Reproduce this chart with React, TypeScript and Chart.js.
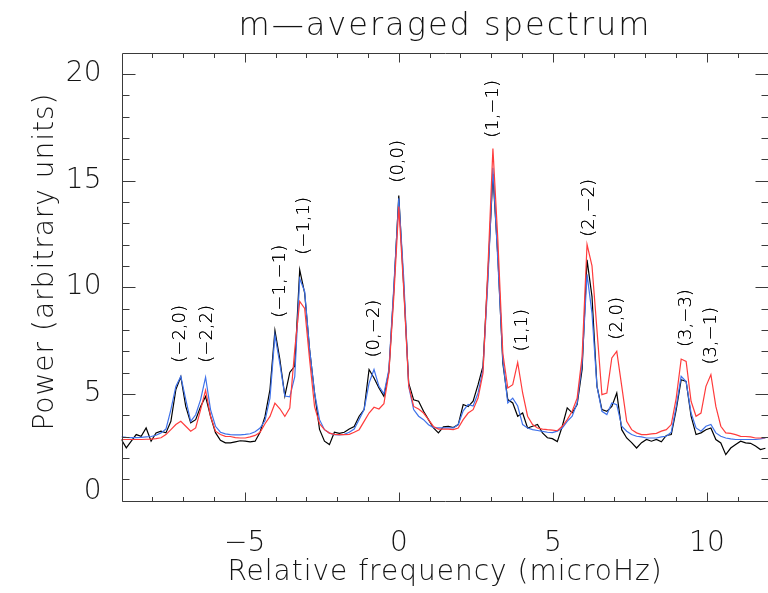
import React, { useEffect, useRef } from 'react';
import { Chart, registerables } from 'chart.js';

Chart.register(...registerables);

// ---- data -------------------------------------------------------------
// spectrum bins (relative frequency grid, microHz)
const FIRST_BIN = -56;
const FREQ_STEP = 0.1608;

// observed m-averaged spectrum (black)
const BLACK = [
  2.86, 2.47, 2.78, 3.09, 3.01, 3.40, 2.78, 3.17, 3.25, 3.17,
  3.71, 5.2, 5.8, 4.41, 3.64, 3.79, 4.41, 4.88, 3.95, 3.18,
  2.82, 2.70, 2.70, 2.75, 2.80, 2.78, 2.75, 2.78, 3.2, 3.94,
  5.2, 7.97, 6.6, 4.9, 6.0, 6.3, 10.81, 9.72, 7.07, 5.04,
  3.33, 2.78, 2.62, 3.2, 3.15, 3.2, 3.35, 3.47, 3.95, 4.26,
  6.14, 5.74, 5.27, 4.88, 6.04, 9.88, 14.3, 10.03, 5.5, 4.72,
  4.65, 4.18, 3.79, 3.40, 3.17, 3.45, 3.48, 3.42, 3.56, 4.5,
  4.4, 4.66, 5.43, 6.3, 10.66, 15.3, 11.4, 6.44, 4.73, 4.57,
  3.95, 4.1, 3.40, 3.48, 3.56, 3.17, 2.94, 2.9, 2.76, 3.48,
  4.34, 4.11, 4.5, 6.14, 11.28, 9.56, 5.36, 4.26, 4.18, 4.41,
  5.04, 3.32, 2.93, 2.71, 2.46, 2.71, 2.86, 2.78, 2.86, 2.75,
  3.05, 3.09, 4.26, 5.66, 5.58, 3.95, 3.09, 3.17, 3.32, 3.40,
  2.86, 2.70, 2.15, 2.46, 2.62, 2.78, 2.70, 2.68, 2.55, 2.39,
  2.45,
];

// model fit (blue)
const BLUE = [
  2.98, 2.96, 2.95, 2.95, 2.96, 2.98, 3.0, 3.06, 3.17, 3.35,
  4.26, 5.35, 5.82, 4.73, 3.71, 4.02, 4.73, 5.78, 4.26, 3.48,
  3.2, 3.12, 3.09, 3.08, 3.08, 3.1, 3.13, 3.22, 3.4, 3.75,
  4.8, 7.75, 6.4, 4.9, 4.86, 5.8, 10.4, 9.8, 7.07, 5.04,
  3.79, 3.32, 3.16, 3.09, 3.07, 3.1, 3.2, 3.35, 3.8, 4.26,
  5.5, 6.14, 5.35, 5.0, 6.14, 10.03, 14.17, 10.4, 5.35, 4.26,
  3.95, 3.79, 3.55, 3.42, 3.40, 3.4, 3.4, 3.4, 3.56, 4.2,
  4.5, 4.43, 5.04, 6.14, 10.35, 15.6, 11.2, 6.6, 4.57, 4.8,
  4.43, 3.56, 3.40, 3.32, 3.28, 3.24, 3.2, 3.18, 3.25, 3.40,
  3.71, 3.95, 4.57, 6.44, 10.6, 8.77, 5.36, 4.18, 4.03, 4.57,
  4.49, 3.48, 3.25, 3.09, 3.01, 2.98, 2.93, 2.93, 2.93, 2.98,
  3.01, 3.2, 4.41, 5.82, 5.58, 4.1, 3.40, 3.25, 3.48, 3.56,
  3.17, 3.01, 2.93, 2.89, 2.86, 2.86, 2.86, 2.86, 2.86, 2.89,
  2.93,
];

// alternative model (red)
const RED = [
  2.86, 2.86, 2.86, 2.86, 2.86, 2.87, 2.88, 2.9, 2.94, 3.09,
  3.32, 3.56, 3.71, 3.48, 3.25, 3.4, 4.26, 5.17, 3.95, 3.25,
  3.09, 3.01, 3.0, 2.95, 2.93, 2.93, 2.98, 3.05, 3.2, 3.6,
  3.94, 4.56, 4.3, 3.94, 4.33, 7.07, 9.33, 9.0, 6.6, 4.4,
  3.6, 3.32, 3.16, 3.1, 3.09, 3.09, 3.1, 3.2, 3.32, 3.71,
  4.1, 4.37, 4.29, 4.54, 5.97, 9.56, 13.78, 9.88, 5.4, 4.41,
  4.29, 4.1, 3.79, 3.47, 3.35, 3.35, 3.35, 3.32, 3.4, 3.79,
  4.1, 4.26, 4.8, 5.97, 10.97, 16.5, 12.2, 6.9, 5.27, 5.43,
  6.47, 5.04, 3.95, 3.56, 3.40, 3.35, 3.32, 3.3, 3.27, 3.48,
  3.79, 4.18, 4.8, 6.75, 12.0, 11.0, 8.0, 4.96, 5.04, 6.68,
  6.99, 5.36, 3.71, 3.32, 3.17, 3.09, 3.09, 3.12, 3.15, 3.25,
  3.32, 3.56, 4.8, 6.63, 6.52, 4.65, 3.95, 4.1, 5.35, 5.9,
  4.41, 3.48, 3.17, 3.15, 3.09, 3.01, 3.0, 2.98, 2.93, 2.93,
  2.95,
];

const FREQ = BLACK.map((_, i) => Number(((FIRST_BIN + i) * FREQ_STEP).toFixed(4)));

// mode identifications (n-shift, m) and where they sit
const MODE_LABELS = ['(−2,0)', '(−2,2)', '(−1,−1)', '(−1,1)', '(0,−2)', '(0,0)', '(1,−1)', '(1,1)', '(2,−2)', '(2,0)', '(3,−3)', '(3,−1)'];
const MODE_FREQ = [-7.08, -6.22, -3.86, -3.05, -0.81, 0.0, 3.08, 4.0, 6.2, 7.1, 9.32, 10.16];
const MODE_LEVEL = [6.46, 6.46, 8.57, 11.52, 6.7, 14.9, 17.0, 6.98, 12.36, 7.54, 7.2, 6.37];

// axes
const X_MIN = -9;
const X_MAX = 12;
const Y_MIN = 0;
const Y_MAX = 21;
const X_TICKS = [-5, 0, 5, 10];
const X_MINOR = [-8, -7, -6, -4, -3, -2, -1, 1, 2, 3, 4, 6, 7, 8, 9, 11];
const Y_TICKS = [0, 5, 10, 15, 20];
const Y_MINOR = [1, 2, 3, 4, 6, 7, 8, 9, 11, 12, 13, 14, 16, 17, 18, 19];

const TITLE = 'm—averaged spectrum';
const X_TITLE = 'Relative frequency (microHz)';
const Y_TITLE = 'Power (arbitrary units)';

// ---- styling ------------------------------------------------------------
const FAMILY = '"DejaVu Sans", "Liberation Sans", sans-serif';
const INK = '#141414';
const AXIS = '#3a3a3a';

const fmtTick = (v: number) => (v < 0 ? '−' + Math.abs(v) : String(v));

const frame = {
  id: 'idlFrame',
  afterDatasetsDraw(chart: any) {
    const { ctx, chartArea } = chart;
    const xs = chart.scales.x;
    const ys = chart.scales.y;
    const L = Math.round(chartArea.left) + 0.5;
    const R = Math.round(chartArea.right) - 0.5;
    const T = Math.round(chartArea.top) + 0.5;
    const B = Math.round(chartArea.bottom) + 0.5;
    ctx.save();
    ctx.strokeStyle = AXIS;
    ctx.lineWidth = 1;
    ctx.beginPath();
    ctx.rect(L, T, R - L, B - T);
    // x ticks (bottom & top, pointing inward)
    const xt = (v: number, len: number) => {
      const p = Math.round(xs.getPixelForValue(v)) + 0.5;
      ctx.moveTo(p, B);
      ctx.lineTo(p, B - len);
      ctx.moveTo(p, T);
      ctx.lineTo(p, T + len);
    };
    X_TICKS.forEach((v) => xt(v, 9));
    X_MINOR.forEach((v) => xt(v, 4.5));
    const yt = (v: number, len: number) => {
      const p = Math.round(ys.getPixelForValue(v)) + 0.5;
      ctx.moveTo(L, p);
      ctx.lineTo(L + len, p);
      ctx.moveTo(R, p);
      ctx.lineTo(R - len, p);
    };
    Y_TICKS.forEach((v) => yt(v, 13));
    Y_MINOR.forEach((v) => yt(v, 7));
    ctx.stroke();

    // titles
    const cx = (chartArea.left + chartArea.right) / 2;
    ctx.fillStyle = INK;
    ctx.textAlign = 'center';
    ctx.textBaseline = 'alphabetic';
    (ctx as any).letterSpacing = '2px';
    ctx.font = `200 32px ${FAMILY}`;
    ctx.fillText(TITLE, cx, 35);
    (ctx as any).letterSpacing = '1px';
    ctx.font = `200 28px ${FAMILY}`;
    ctx.fillText(X_TITLE, cx, 580);
    ctx.save();
    ctx.translate(53, (chartArea.top + chartArea.bottom) / 2 - 15);
    ctx.rotate(-Math.PI / 2);
    ctx.fillText(Y_TITLE, 0, 0);
    ctx.restore();

    // mode labels
    (ctx as any).letterSpacing = '0px';
    ctx.fillStyle = '#000';
    ctx.font = `200 18px ${FAMILY}`;
    ctx.textAlign = 'left';
    ctx.textBaseline = 'middle';
    MODE_LABELS.forEach((lab, i) => {
      const px = xs.getPixelForValue(MODE_FREQ[i]);
      const py = ys.getPixelForValue(MODE_LEVEL[i]);
      ctx.save();
      ctx.translate(px, py);
      ctx.rotate(-Math.PI / 2);
      ctx.fillText(lab, 0, 0);
      ctx.fillText(lab, 0, 0);
      ctx.restore();
    });
    ctx.restore();
  },
};

export default function App() {
  const ref = useRef<HTMLCanvasElement | null>(null);
  useEffect(() => {
    if (!ref.current) return;
    const tickFont = { family: FAMILY, size: 28, weight: 200 as any };
    const chart = new Chart(ref.current, {
      type: 'line',
      data: {
        labels: FREQ,
        datasets: [
          { label: 'red model', data: RED, borderColor: '#ff3c3c', borderWidth: 1.2, pointRadius: 0, tension: 0, fill: false },
          { label: 'blue model', data: BLUE, borderColor: '#3f72ea', borderWidth: 1.2, pointRadius: 0, tension: 0, fill: false },
          { label: 'observed', data: BLACK, borderColor: '#000000', borderWidth: 1.2, pointRadius: 0, tension: 0, fill: false },
        ],
      },
      options: {
        responsive: false,
        maintainAspectRatio: false,
        animation: false,
        devicePixelRatio: 1,
        layout: { padding: { left: 0, right: 3.5, top: 52.5, bottom: 0 } },
        plugins: { legend: { display: false }, tooltip: { enabled: false }, title: { display: false } },
        scales: {
          x: {
            type: 'linear',
            min: X_MIN,
            max: X_MAX,
            grid: { display: false },
            border: { display: false },
            afterBuildTicks: (s: any) => { s.ticks = X_TICKS.map((v) => ({ value: v })); },
            afterFit: (s: any) => { s.height = 92.5; },
            ticks: {
              font: tickFont,
              color: INK,
              padding: 18,
              maxRotation: 0,
              autoSkip: false,
              callback: (v: any) => fmtTick(Number(v)),
            },
          },
          y: {
            type: 'linear',
            min: Y_MIN,
            max: Y_MAX,
            grid: { display: false },
            border: { display: false },
            afterBuildTicks: (s: any) => { s.ticks = Y_TICKS.map((v) => ({ value: v })); },
            afterFit: (s: any) => { s.width = 121.5; },
            ticks: {
              font: { ...tickFont, lineHeight: 0.643 },
              color: INK,
              padding: 12,
              autoSkip: false,
              callback: (v: any) => (Number(v) === 0 ? ['0', ''] : fmtTick(Number(v))),
            },
          },
        },
      },
      plugins: [frame],
    });
    return () => chart.destroy();
  }, []);

  return (
    <div style={{ position: 'fixed', left: 0, top: 0, width: 768, height: 593, overflow: 'hidden', background: '#fff' }}>
      <canvas ref={ref} width={772} height={593} style={{ display: 'block' }} />
    </div>
  );
}
